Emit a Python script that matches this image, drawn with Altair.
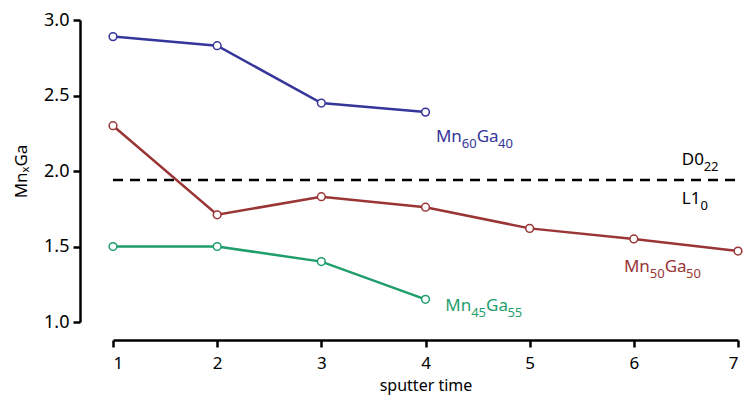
import altair as alt
import pandas as pd

x_vals = [1, 2, 3, 4, 5, 6, 7]
mn60 = [2.89, 2.83, 2.45, 2.39]
mn50 = [2.30, 1.71, 1.83, 1.76, 1.62, 1.55, 1.47]
mn45 = [1.50, 1.50, 1.40, 1.15]
series_names = ["Mn60Ga40", "Mn50Ga50", "Mn45Ga55"]
colors = ["#35359a", "#9a3535", "#1f9e6c"]
boundary = 1.94

rows = []
for name, vals in zip(series_names, [mn60, mn50, mn45]):
    for xv, yv in zip(x_vals, vals):
        rows.append({"t": xv, "v": yv, "s": name})
df = pd.DataFrame(rows)

# label pieces: (text, is_subscript)
label_parts = [
    [("Mn", 0), ("60", 1), ("Ga", 0), ("40", 1)],
    [("Mn", 0), ("50", 1), ("Ga", 0), ("50", 1)],
    [("Mn", 0), ("45", 1), ("Ga", 0), ("55", 1)],
    [("D0", 0), ("22", 1)],
    [("L1", 0), ("0", 1)],
]
label_x = [4.10, 5.905, 4.19, 6.46, 6.46]
label_y = [2.192, 1.331, 1.073, 2.040, 1.781]
label_col = ["Mn60Ga40", "Mn50Ga50", "Mn45Ga55", "k", "k"]

FONT = "Noto Sans"
MAIN_FS, SUB_FS = 17, 13
PX_PER_UNIT = 625 / 6
char_w = {"M": 0.907, "n": 0.613, "G": 0.698, "a": 0.561, "D": 0.715, "L": 0.528}

def text_width(s, fs):
    return sum(char_w.get(c, 0.572) for c in s) * fs

part_rows = []
for parts, lx, ly, col in zip(label_parts, label_x, label_y, label_col):
    off = 0.0
    for txt, sub in parts:
        fs = SUB_FS if sub else MAIN_FS
        part_rows.append({"t": lx + off / PX_PER_UNIT, "v": ly, "txt": txt, "s": col, "sub": sub})
        off += text_width(txt, fs)
parts_df = pd.DataFrame(part_rows)

xs = alt.Scale(domain=[1, 7], nice=False, zero=False)
ys = alt.Scale(domain=[1, 3], nice=False, zero=False)
cs = alt.Scale(domain=series_names + ["k"], range=colors + ["#000000"])

lines = alt.Chart(df).mark_line(strokeWidth=2.5).encode(
    x=alt.X("t:Q", scale=xs, title="sputter time",
            axis=alt.Axis(values=x_vals, format="d", offset=18, grid=False,
                          domainColor="black", domainWidth=2.5, tickColor="black",
                          tickWidth=2.5, tickSize=7, labelFontSize=17, labelFont=FONT,
                          labelColor="black", titleFont=FONT, titleFontSize=16,
                          titleFontWeight="normal", titleColor="black", labelPadding=8,
                          titlePadding=6)),
    y=alt.Y("v:Q", scale=ys, title="MnₓGa",
            axis=alt.Axis(values=[1.0, 1.5, 2.0, 2.5, 3.0], format=".1f", offset=33, grid=False,
                          domainColor="black", domainWidth=2.5, tickColor="black",
                          tickWidth=2.5, tickSize=7, labelFontSize=18, labelFont=FONT,
                          labelColor="black", titleFont=FONT, titleFontSize=17,
                          titleFontWeight="normal", titleColor="black", labelPadding=4,
                          titlePadding=13)),
    color=alt.Color("s:N", scale=cs, legend=None),
    detail="s:N",
)

points = alt.Chart(df).mark_point(shape="circle", filled=True, fill="white", size=60,
                                   strokeWidth=1.5, opacity=1).encode(
    x=alt.X("t:Q", scale=xs),
    y=alt.Y("v:Q", scale=ys),
    stroke=alt.Color("s:N", scale=cs, legend=None),
)

hline = alt.Chart(pd.DataFrame({"v": [boundary], "a": [1], "b": [7]})).mark_rule(
    strokeDash=[10, 7], strokeWidth=2.5, color="black").encode(
    y=alt.Y("v:Q", scale=ys), x=alt.X("a:Q", scale=xs), x2="b:Q")

main_labels = alt.Chart(parts_df).transform_filter("datum.sub == 0").mark_text(
    align="left", baseline="alphabetic", fontSize=MAIN_FS, font=FONT).encode(
    x=alt.X("t:Q", scale=xs), y=alt.Y("v:Q", scale=ys), text="txt:N",
    color=alt.Color("s:N", scale=cs, legend=None))

sub_labels = alt.Chart(parts_df).transform_filter("datum.sub == 1").mark_text(
    align="left", baseline="alphabetic", fontSize=SUB_FS, font=FONT, dy=6).encode(
    x=alt.X("t:Q", scale=xs), y=alt.Y("v:Q", scale=ys), text="txt:N",
    color=alt.Color("s:N", scale=cs, legend=None))

chart = alt.layer(hline, lines, points, main_labels, sub_labels).properties(
    width=625, height=302,
    autosize=alt.AutoSizeParams(type="none"),
    padding={"left": 113, "top": 20, "right": 6, "bottom": 74},
).configure_view(stroke=None)

chart.save("out.html", embed_options={"renderer": "svg", "actions": False})
